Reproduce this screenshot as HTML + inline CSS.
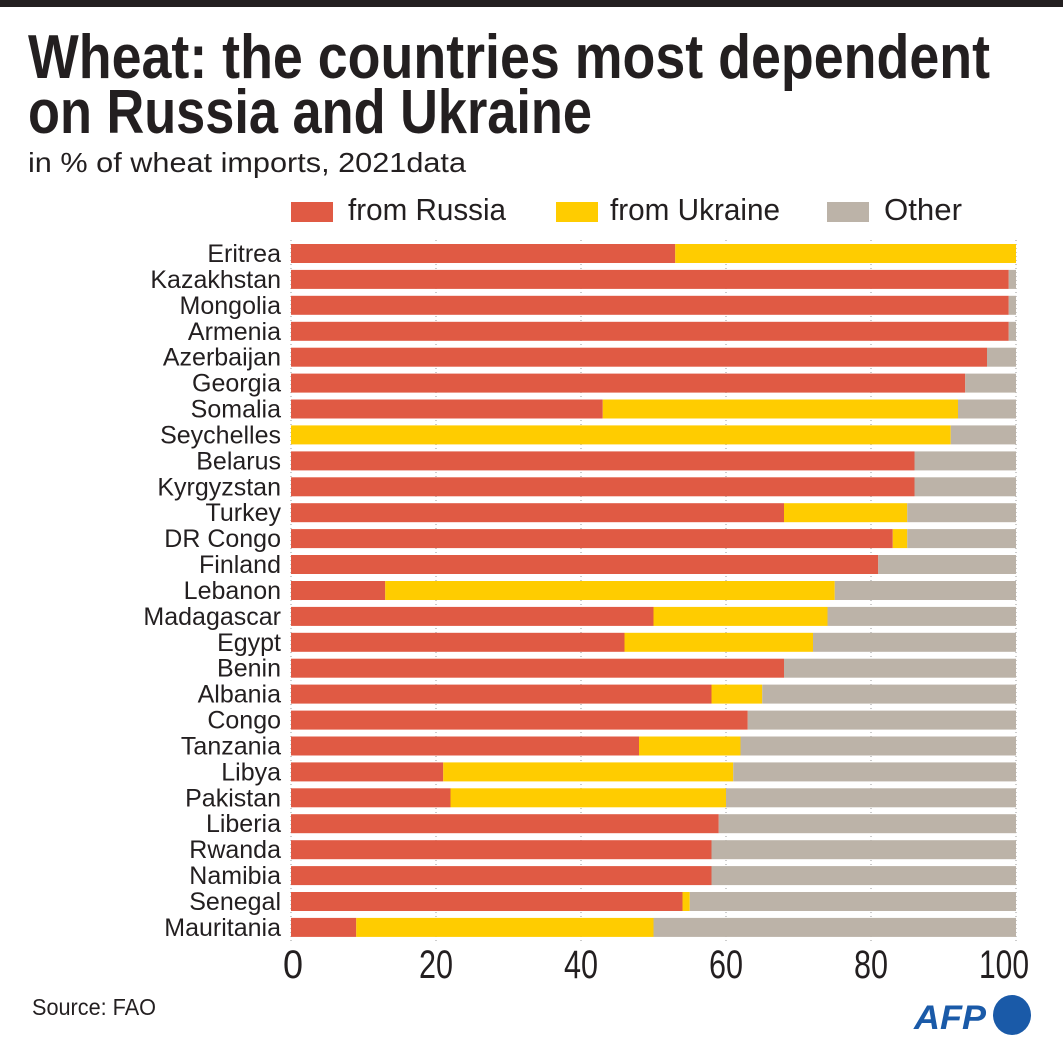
<!DOCTYPE html>
<html><head><meta charset="utf-8"><style>
html,body{margin:0;padding:0;background:#fff}
svg{display:block}
text{font-family:"Liberation Sans Narrow","Liberation Sans",sans-serif;fill:#231f20}
</style></head><body>
<svg width="1063" height="1047" viewBox="0 0 1063 1047" xmlns="http://www.w3.org/2000/svg">
<rect x="0" y="0" width="1063" height="7" fill="#231f20"/>
<text x="28" y="78" font-size="62" font-weight="bold" textLength="962" lengthAdjust="spacingAndGlyphs">Wheat: the countries most dependent</text>
<text x="28" y="133" font-size="62" font-weight="bold" textLength="564" lengthAdjust="spacingAndGlyphs">on Russia and Ukraine</text>
<text x="28" y="172" font-size="28" textLength="438" lengthAdjust="spacingAndGlyphs">in % of wheat imports, 2021data</text>
<rect x="291" y="202" width="42" height="20" fill="#e05a44"/>
<text x="348" y="220" font-size="31" textLength="158" lengthAdjust="spacingAndGlyphs">from Russia</text>
<rect x="556" y="202" width="42" height="20" fill="#ffcc00"/>
<text x="610" y="220" font-size="31" textLength="170" lengthAdjust="spacingAndGlyphs">from Ukraine</text>
<rect x="827" y="202" width="42" height="20" fill="#bcb3a8"/>
<text x="884" y="220" font-size="31" textLength="78" lengthAdjust="spacingAndGlyphs">Other</text>
<g stroke="#999" stroke-width="1" stroke-dasharray="1,3">
<line x1="291" y1="240" x2="291" y2="944"/><line x1="436" y1="240" x2="436" y2="944"/><line x1="581" y1="240" x2="581" y2="944"/><line x1="726" y1="240" x2="726" y2="944"/><line x1="871" y1="240" x2="871" y2="944"/><line x1="1016" y1="240" x2="1016" y2="944"/>
</g>
<g font-size="25" text-anchor="end">
<g transform="translate(0,244)"><rect x="291" width="384.25" height="19" fill="#e05a44"/><rect x="675.25" width="340.75" height="19" fill="#ffcc00"/><text x="281" y="18">Eritrea</text></g>
<g transform="translate(0,269.9)"><rect x="291" width="717.75" height="19" fill="#e05a44"/><rect x="1008.75" width="7.25" height="19" fill="#bcb3a8"/><text x="281" y="18">Kazakhstan</text></g>
<g transform="translate(0,295.8)"><rect x="291" width="717.75" height="19" fill="#e05a44"/><rect x="1008.75" width="7.25" height="19" fill="#bcb3a8"/><text x="281" y="18">Mongolia</text></g>
<g transform="translate(0,321.8)"><rect x="291" width="717.75" height="19" fill="#e05a44"/><rect x="1008.75" width="7.25" height="19" fill="#bcb3a8"/><text x="281" y="18">Armenia</text></g>
<g transform="translate(0,347.7)"><rect x="291" width="696" height="19" fill="#e05a44"/><rect x="987" width="29" height="19" fill="#bcb3a8"/><text x="281" y="18">Azerbaijan</text></g>
<g transform="translate(0,373.6)"><rect x="291" width="674.25" height="19" fill="#e05a44"/><rect x="965.25" width="50.75" height="19" fill="#bcb3a8"/><text x="281" y="18">Georgia</text></g>
<g transform="translate(0,399.5)"><rect x="291" width="311.75" height="19" fill="#e05a44"/><rect x="602.75" width="355.25" height="19" fill="#ffcc00"/><rect x="958" width="58" height="19" fill="#bcb3a8"/><text x="281" y="18">Somalia</text></g>
<g transform="translate(0,425.4)"><rect x="291" width="659.75" height="19" fill="#ffcc00"/><rect x="950.75" width="65.25" height="19" fill="#bcb3a8"/><text x="281" y="18">Seychelles</text></g>
<g transform="translate(0,451.4)"><rect x="291" width="623.5" height="19" fill="#e05a44"/><rect x="914.5" width="101.5" height="19" fill="#bcb3a8"/><text x="281" y="18">Belarus</text></g>
<g transform="translate(0,477.3)"><rect x="291" width="623.5" height="19" fill="#e05a44"/><rect x="914.5" width="101.5" height="19" fill="#bcb3a8"/><text x="281" y="18">Kyrgyzstan</text></g>
<g transform="translate(0,503.2)"><rect x="291" width="493" height="19" fill="#e05a44"/><rect x="784" width="123.25" height="19" fill="#ffcc00"/><rect x="907.25" width="108.75" height="19" fill="#bcb3a8"/><text x="281" y="18">Turkey</text></g>
<g transform="translate(0,529.1)"><rect x="291" width="601.75" height="19" fill="#e05a44"/><rect x="892.75" width="14.5" height="19" fill="#ffcc00"/><rect x="907.25" width="108.75" height="19" fill="#bcb3a8"/><text x="281" y="18">DR Congo</text></g>
<g transform="translate(0,555)"><rect x="291" width="587.25" height="19" fill="#e05a44"/><rect x="878.25" width="137.75" height="19" fill="#bcb3a8"/><text x="281" y="18">Finland</text></g>
<g transform="translate(0,581)"><rect x="291" width="94.25" height="19" fill="#e05a44"/><rect x="385.25" width="449.5" height="19" fill="#ffcc00"/><rect x="834.75" width="181.25" height="19" fill="#bcb3a8"/><text x="281" y="18">Lebanon</text></g>
<g transform="translate(0,606.9)"><rect x="291" width="362.5" height="19" fill="#e05a44"/><rect x="653.5" width="174" height="19" fill="#ffcc00"/><rect x="827.5" width="188.5" height="19" fill="#bcb3a8"/><text x="281" y="18">Madagascar</text></g>
<g transform="translate(0,632.8)"><rect x="291" width="333.5" height="19" fill="#e05a44"/><rect x="624.5" width="188.5" height="19" fill="#ffcc00"/><rect x="813" width="203" height="19" fill="#bcb3a8"/><text x="281" y="18">Egypt</text></g>
<g transform="translate(0,658.7)"><rect x="291" width="493" height="19" fill="#e05a44"/><rect x="784" width="232" height="19" fill="#bcb3a8"/><text x="281" y="18">Benin</text></g>
<g transform="translate(0,684.6)"><rect x="291" width="420.5" height="19" fill="#e05a44"/><rect x="711.5" width="50.75" height="19" fill="#ffcc00"/><rect x="762.25" width="253.75" height="19" fill="#bcb3a8"/><text x="281" y="18">Albania</text></g>
<g transform="translate(0,710.6)"><rect x="291" width="456.75" height="19" fill="#e05a44"/><rect x="747.75" width="268.25" height="19" fill="#bcb3a8"/><text x="281" y="18">Congo</text></g>
<g transform="translate(0,736.5)"><rect x="291" width="348" height="19" fill="#e05a44"/><rect x="639" width="101.5" height="19" fill="#ffcc00"/><rect x="740.5" width="275.5" height="19" fill="#bcb3a8"/><text x="281" y="18">Tanzania</text></g>
<g transform="translate(0,762.4)"><rect x="291" width="152.25" height="19" fill="#e05a44"/><rect x="443.25" width="290" height="19" fill="#ffcc00"/><rect x="733.25" width="282.75" height="19" fill="#bcb3a8"/><text x="281" y="18">Libya</text></g>
<g transform="translate(0,788.3)"><rect x="291" width="159.5" height="19" fill="#e05a44"/><rect x="450.5" width="275.5" height="19" fill="#ffcc00"/><rect x="726" width="290" height="19" fill="#bcb3a8"/><text x="281" y="18">Pakistan</text></g>
<g transform="translate(0,814.2)"><rect x="291" width="427.75" height="19" fill="#e05a44"/><rect x="718.75" width="297.25" height="19" fill="#bcb3a8"/><text x="281" y="18">Liberia</text></g>
<g transform="translate(0,840.2)"><rect x="291" width="420.5" height="19" fill="#e05a44"/><rect x="711.5" width="304.5" height="19" fill="#bcb3a8"/><text x="281" y="18">Rwanda</text></g>
<g transform="translate(0,866.1)"><rect x="291" width="420.5" height="19" fill="#e05a44"/><rect x="711.5" width="304.5" height="19" fill="#bcb3a8"/><text x="281" y="18">Namibia</text></g>
<g transform="translate(0,892)"><rect x="291" width="391.5" height="19" fill="#e05a44"/><rect x="682.5" width="7.25" height="19" fill="#ffcc00"/><rect x="689.75" width="326.25" height="19" fill="#bcb3a8"/><text x="281" y="18">Senegal</text></g>
<g transform="translate(0,917.9)"><rect x="291" width="65.25" height="19" fill="#e05a44"/><rect x="356.25" width="297.25" height="19" fill="#ffcc00"/><rect x="653.5" width="362.5" height="19" fill="#bcb3a8"/><text x="281" y="18">Mauritania</text></g>
</g>
<g font-size="40" text-anchor="middle">
<text x="293" y="978" textLength="20" lengthAdjust="spacingAndGlyphs">0</text><text x="436" y="978" textLength="34" lengthAdjust="spacingAndGlyphs">20</text><text x="581" y="978" textLength="34" lengthAdjust="spacingAndGlyphs">40</text><text x="726" y="978" textLength="34" lengthAdjust="spacingAndGlyphs">60</text><text x="871" y="978" textLength="34" lengthAdjust="spacingAndGlyphs">80</text><text x="1004" y="978" textLength="50" lengthAdjust="spacingAndGlyphs">100</text>
</g>
<text x="32" y="1015" font-size="23" textLength="124" lengthAdjust="spacingAndGlyphs">Source: FAO</text>
<text x="914" y="1029" font-size="34" font-weight="bold" font-style="italic" style="fill:#1a5aa8" textLength="72" lengthAdjust="spacingAndGlyphs">AFP</text>
<ellipse cx="1012" cy="1015" rx="19" ry="20" fill="#1a5aa8"/>
</svg>
</body></html>
